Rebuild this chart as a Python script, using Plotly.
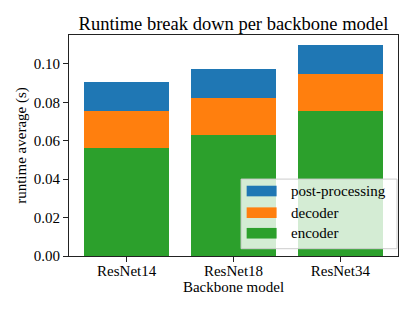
import plotly.graph_objects as go

models = ["ResNet14", "ResNet18", "ResNet34"]
encoder = [0.0562, 0.0629, 0.0752]
decoder = [0.0194, 0.0193, 0.0197]
post_processing = [0.0151, 0.0149, 0.0147]

series_names = ["encoder", "decoder", "post-processing"]
series_values = [encoder, decoder, post_processing]
series_colors = ["#2ca02c", "#ff7f0e", "#1f77b4"]

FONT = "Liberation Serif"

fig = go.Figure()
for name, vals, col in zip(series_names, series_values, series_colors):
    fig.add_trace(go.Bar(x=models, y=vals, name=name, marker_color=col,
                         marker_line_width=0, showlegend=False))

# manual legend (matplotlib style)
shapes = [dict(type="rect", xref="paper", yref="paper", x0=0.523, x1=0.997,
               y0=0.033, y1=0.348, fillcolor="rgba(255,255,255,0.8)",
               line=dict(color="#cccccc", width=1), layer="above")]
annotations = []
row_y = [0.103, 0.196, 0.294]
for name, col, yy in zip(series_names, series_colors, row_y):
    shapes.append(dict(type="rect", xref="paper", yref="paper", x0=0.540, x1=0.631,
                       y0=yy - 0.024, y1=yy + 0.024, fillcolor=col,
                       line=dict(width=0), layer="above"))
    annotations.append(dict(xref="paper", yref="paper", x=0.668, y=yy, text=name,
                            showarrow=False, xanchor="left", yanchor="middle",
                            font=dict(family=FONT, size=15, color="black")))

# page body has an 8px margin, so the figure is placed 8px right/down
fig.update_layout(
    width=407, height=303,
    margin=dict(l=59, r=17, t=27, b=55),
    paper_bgcolor="white", plot_bgcolor="white",
    barmode="stack", bargap=0.2,
    font=dict(family=FONT, size=15, color="black"),
    title=dict(text="Runtime break down per backbone model", xref="paper", x=0.5,
               xanchor="center", y=0.95, yanchor="middle",
               font=dict(family=FONT, size=18.5, color="black")),
    shapes=shapes, annotations=annotations,
)
fig.update_xaxes(range=[-0.54, 2.54], showline=True, linecolor="#222", linewidth=1,
                 mirror=True, ticks="outside", ticklen=5, tickcolor="#222",
                 ticklabelstandoff=-4,
                 tickfont=dict(family=FONT, size=15, color="black"),
                 showgrid=False,
                 title=dict(text="Backbone model", standoff=0,
                            font=dict(family=FONT, size=15, color="black")))
fig.update_yaxes(range=[0, 0.115], dtick=0.02, tick0=0, tickformat=".2f",
                 showline=True, linecolor="#222", linewidth=1, mirror=True,
                 ticks="outside", ticklen=5, tickcolor="#222", showgrid=False,
                 tickfont=dict(family=FONT, size=15, color="black"),
                 zeroline=False,
                 title=dict(text="runtime average (s)", standoff=3,
                            font=dict(family=FONT, size=15, color="black")))

fig.write_html("out.html")
